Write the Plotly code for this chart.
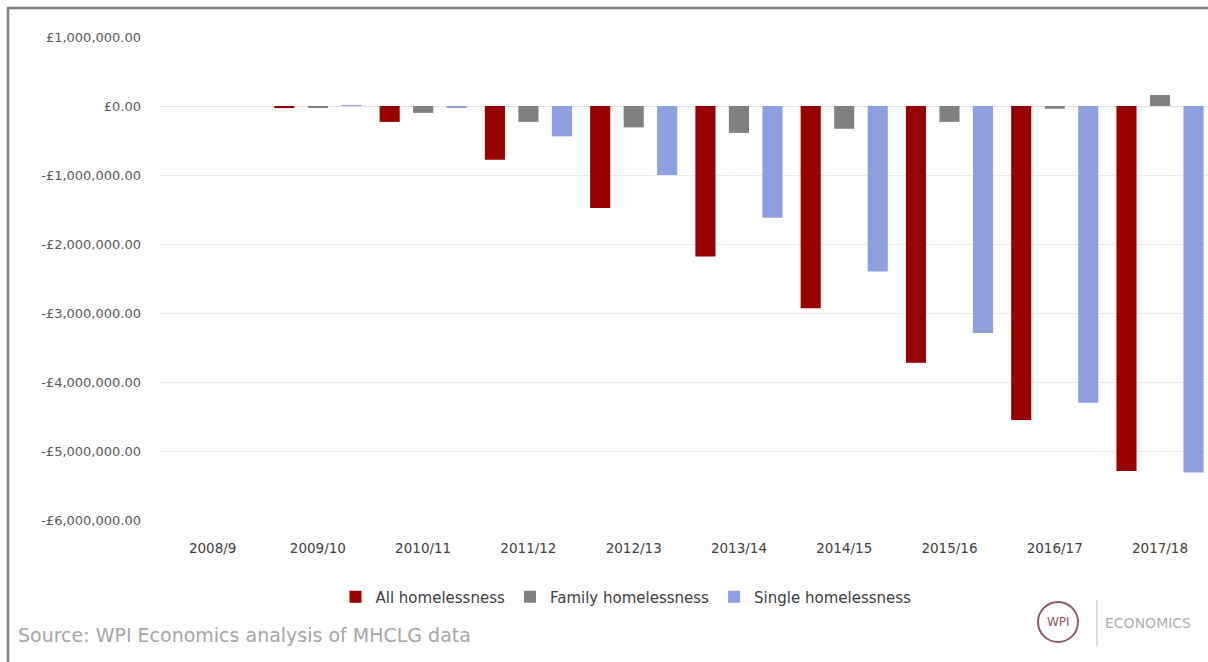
import plotly.graph_objects as go

years = ["2008/9", "2009/10", "2010/11", "2011/12", "2012/13",
         "2013/14", "2014/15", "2015/16", "2016/17", "2017/18"]
all_homelessness = [0, -30000, -230000, -780000, -1480000,
                    -2180000, -2930000, -3720000, -4550000, -5290000]
family_homelessness = [0, -15000, -100000, -230000, -310000,
                       -390000, -330000, -230000, -40000, 160000]
single_homelessness = [0, 10000, -30000, -440000, -1000000,
                       -1620000, -2400000, -3290000, -4300000, -5310000]
series_names = ["All homelessness", "Family homelessness", "Single homelessness"]
series_colors = ["#990000", "#808080", "#8E9FE0"]

y_tickvals = [1000000, 0, -1000000, -2000000, -3000000, -4000000, -5000000, -6000000]
y_ticktext = ["£1,000,000.00", "£0.00", "-£1,000,000.00", "-£2,000,000.00",
              "-£3,000,000.00", "-£4,000,000.00", "-£5,000,000.00", "-£6,000,000.00"]

W, H = 1208, 662
L, R, T, B = 160, 0, 37, 142
PW, PH = W - L - R, H - T - B


def px(x):
    return (x - L) / PW


def py(y):
    return (H - B - y) / PH


fig = go.Figure()
for name, vals, col in zip(series_names,
                           [all_homelessness, family_homelessness, single_homelessness],
                           series_colors):
    fig.add_trace(go.Bar(x=years, y=vals, name=name, marker_color=col,
                         marker_line_width=0))

fig.update_layout(
    width=W, height=H,
    margin=dict(l=L, r=R, t=T, b=B),
    paper_bgcolor="white", plot_bgcolor="white",
    barmode="group", bargap=0.045, bargroupgap=0.40,
    font=dict(family="DejaVu Sans", color="#595959"),
    showlegend=True,
    legend=dict(orientation="h", x=px(626), xanchor="center", y=py(597), yanchor="middle",
                font=dict(size=15, color="#404040", family="DejaVu Sans"),
                itemwidth=30, traceorder="normal"),
    xaxis=dict(range=[-0.5, 9.456], showgrid=False, showline=False, zeroline=False,
               ticks="", tickfont=dict(size=13.5, color="#404040"), ticklabelstandoff=18),
    yaxis=dict(range=[-6000000, 1000000], tickvals=y_tickvals, ticktext=y_ticktext,
               showgrid=True, gridcolor="#ebebeb", gridwidth=1, zeroline=True,
               zerolinecolor="#e0e0e0", zerolinewidth=1, showline=False, ticks="",
               tickfont=dict(size=13, color="#595959"), ticklabelstandoff=18),
)

# frame border (left and top visible)
fig.add_shape(type="rect", xref="paper", yref="paper",
              x0=px(8), x1=px(W + 20), y0=py(8), y1=py(H + 20),
              line=dict(color="#808080", width=2.5), fillcolor="rgba(0,0,0,0)", layer="above")

# source note
fig.add_annotation(xref="paper", yref="paper", x=px(16), y=py(635), xanchor="left",
                   yanchor="middle", showarrow=False,
                   text="Source: WPI Economics analysis of MHCLG data",
                   font=dict(size=19, color="#a6a6a6", family="DejaVu Sans"))

# WPI logo
cx, cy, r = 1058, 622, 20
fig.add_shape(type="circle", xref="paper", yref="paper",
              x0=px(cx - r), x1=px(cx + r), y0=py(cy + r), y1=py(cy - r),
              line=dict(color="#8a5a60", width=2))
fig.add_annotation(xref="paper", yref="paper", x=px(cx), y=py(cy), xanchor="center",
                   yanchor="middle", showarrow=False,
                   text="WPI", font=dict(size=12, color="#8a5a60", family="DejaVu Sans"))
fig.add_shape(type="line", xref="paper", yref="paper",
              x0=px(1097), x1=px(1097), y0=py(600), y1=py(646),
              line=dict(color="#bbbbbb", width=1))
fig.add_annotation(xref="paper", yref="paper", x=px(1103), y=py(623), xanchor="left",
                   yanchor="middle", showarrow=False, text="ECONOMICS",
                   font=dict(size=14, color="#b0b0b0", family="DejaVu Sans"))

fig.write_html("out.html")
